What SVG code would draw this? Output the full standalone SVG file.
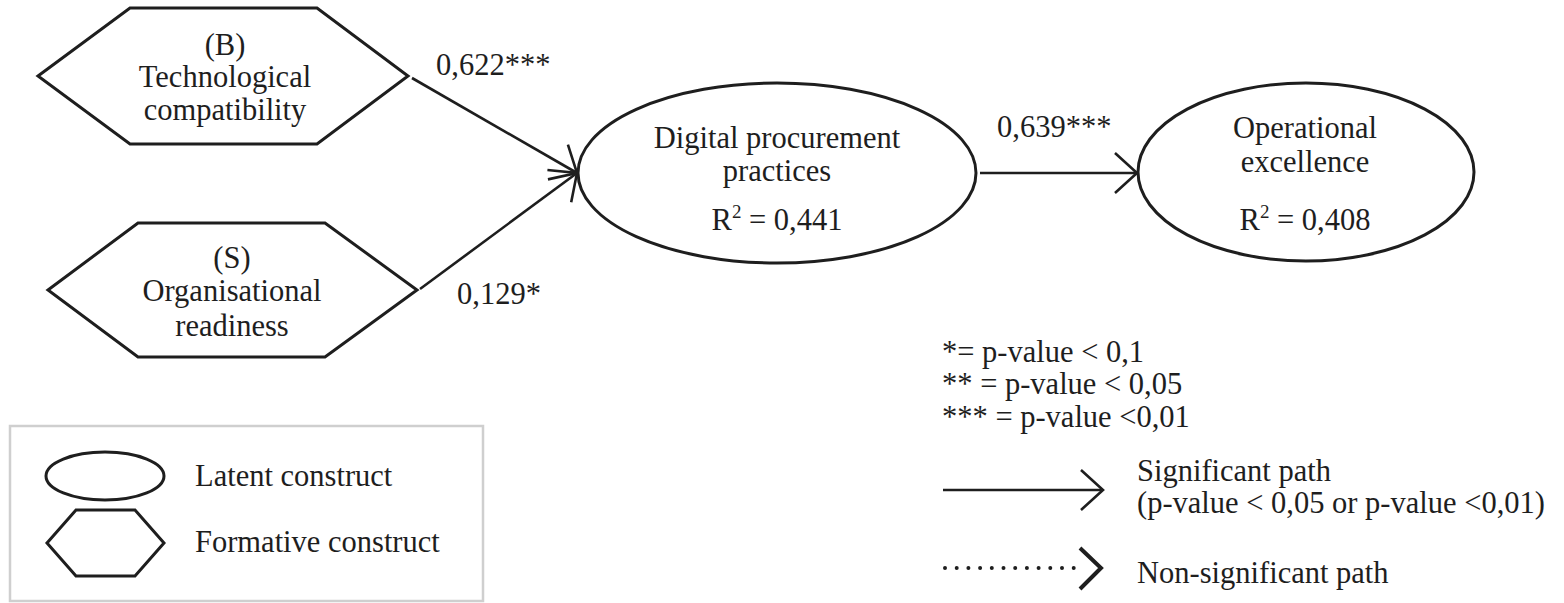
<svg xmlns="http://www.w3.org/2000/svg" width="1564" height="603" viewBox="0 0 1564 603">
  <style>
    text { font-family: "Liberation Serif", "Times New Roman", serif; font-size: 30.5px; fill: #1e1e1e; }
    .mid { text-anchor: middle; }
    .shape { fill: #ffffff; stroke: #1e1e1e; stroke-width: 3; stroke-linejoin: miter; }
    .path { fill: none; stroke: #1e1e1e; stroke-width: 2.6; }
    .sup { font-size: 19px; }
  </style>
  <defs>
    <!-- open V arrowhead used on significant paths -->
    <marker id="open-head" markerUnits="userSpaceOnUse" markerWidth="40" markerHeight="50" refX="0" refY="0" viewBox="-30 -25 40 50" orient="auto" overflow="visible">
      <path d="M -22 -20 L 0 0 L -22 20" fill="none" stroke="#1e1e1e" stroke-width="2.6"/>
    </marker>
  </defs>

  <rect width="1564" height="603" fill="#ffffff"/>

  <!-- connectors -->
  <g id="connectors">
    <line class="path" x1="412" y1="78" x2="577" y2="173" marker-end="url(#open-head)"/>
    <line class="path" x1="420" y1="289" x2="577" y2="173" marker-end="url(#open-head)"/>
    <line class="path" x1="980" y1="173" x2="1137" y2="173" marker-end="url(#open-head)"/>
    <text x="436" y="75">0,622***</text>
    <text x="457" y="304">0,129*</text>
    <text x="997" y="137">0,639***</text>
  </g>

  <!-- formative construct B -->
  <g id="node-technological-compatibility">
    <polygon class="shape" points="38,76 130,8 317,8 408,76 317,144 130,144"/>
    <text class="mid" x="225" y="55">(B)</text>
    <text class="mid" x="225" y="87">Technological</text>
    <text class="mid" x="225" y="120">compatibility</text>
  </g>

  <!-- formative construct S -->
  <g id="node-organisational-readiness">
    <polygon class="shape" points="48,290 138,223 325,223 417,290 325,357 138,357"/>
    <text class="mid" x="232" y="268">(S)</text>
    <text class="mid" x="232" y="301">Organisational</text>
    <text class="mid" x="232" y="336">readiness</text>
  </g>

  <!-- latent construct: digital procurement practices -->
  <g id="node-digital-procurement">
    <ellipse class="shape" cx="777" cy="173" rx="199" ry="90"/>
    <text class="mid" x="777" y="148">Digital procurement</text>
    <text class="mid" x="777" y="181">practices</text>
    <text class="mid" x="777" y="230">R<tspan class="sup" dy="-12">2</tspan><tspan dy="12"> = 0,441</tspan></text>
  </g>

  <!-- latent construct: operational excellence -->
  <g id="node-operational-excellence">
    <ellipse class="shape" cx="1306" cy="172" rx="168" ry="89"/>
    <text class="mid" x="1305" y="138">Operational</text>
    <text class="mid" x="1305" y="172">excellence</text>
    <text class="mid" x="1305" y="230">R<tspan class="sup" dy="-12">2</tspan><tspan dy="12"> = 0,408</tspan></text>
  </g>

  <!-- shape legend -->
  <g id="legend-shapes">
    <rect x="10" y="426" width="473" height="175" fill="#ffffff" stroke="#cfcfcf" stroke-width="2.5"/>
    <ellipse class="shape" cx="105" cy="476" rx="59" ry="24"/>
    <text x="195" y="486">Latent construct</text>
    <polygon class="shape" points="47,543 76,510 135,510 164,543 135,576 76,576"/>
    <text x="195" y="552">Formative construct</text>
  </g>

  <!-- significance legend -->
  <g id="legend-significance">
    <text x="942" y="362">*= p-value &lt; 0,1</text>
    <text x="942" y="394">** = p-value &lt; 0,05</text>
    <text x="942" y="427">*** = p-value &lt;0,01</text>
    <line class="path" x1="943" y1="490" x2="1103" y2="490" marker-end="url(#open-head)"/>
    <text x="1137" y="481">Significant path</text>
    <text x="1137" y="513">(p-value &lt; 0,05 or p-value &lt;0,01)</text>
    <line x1="945" y1="568" x2="1078" y2="568" stroke="#1e1e1e" stroke-width="4" stroke-linecap="round" stroke-dasharray="0 11.7"/>
    <path d="M 1080 548 L 1101 568 L 1080 589" fill="none" stroke="#1e1e1e" stroke-width="4"/>
    <text x="1137" y="583">Non-significant path</text>
  </g>
</svg>
